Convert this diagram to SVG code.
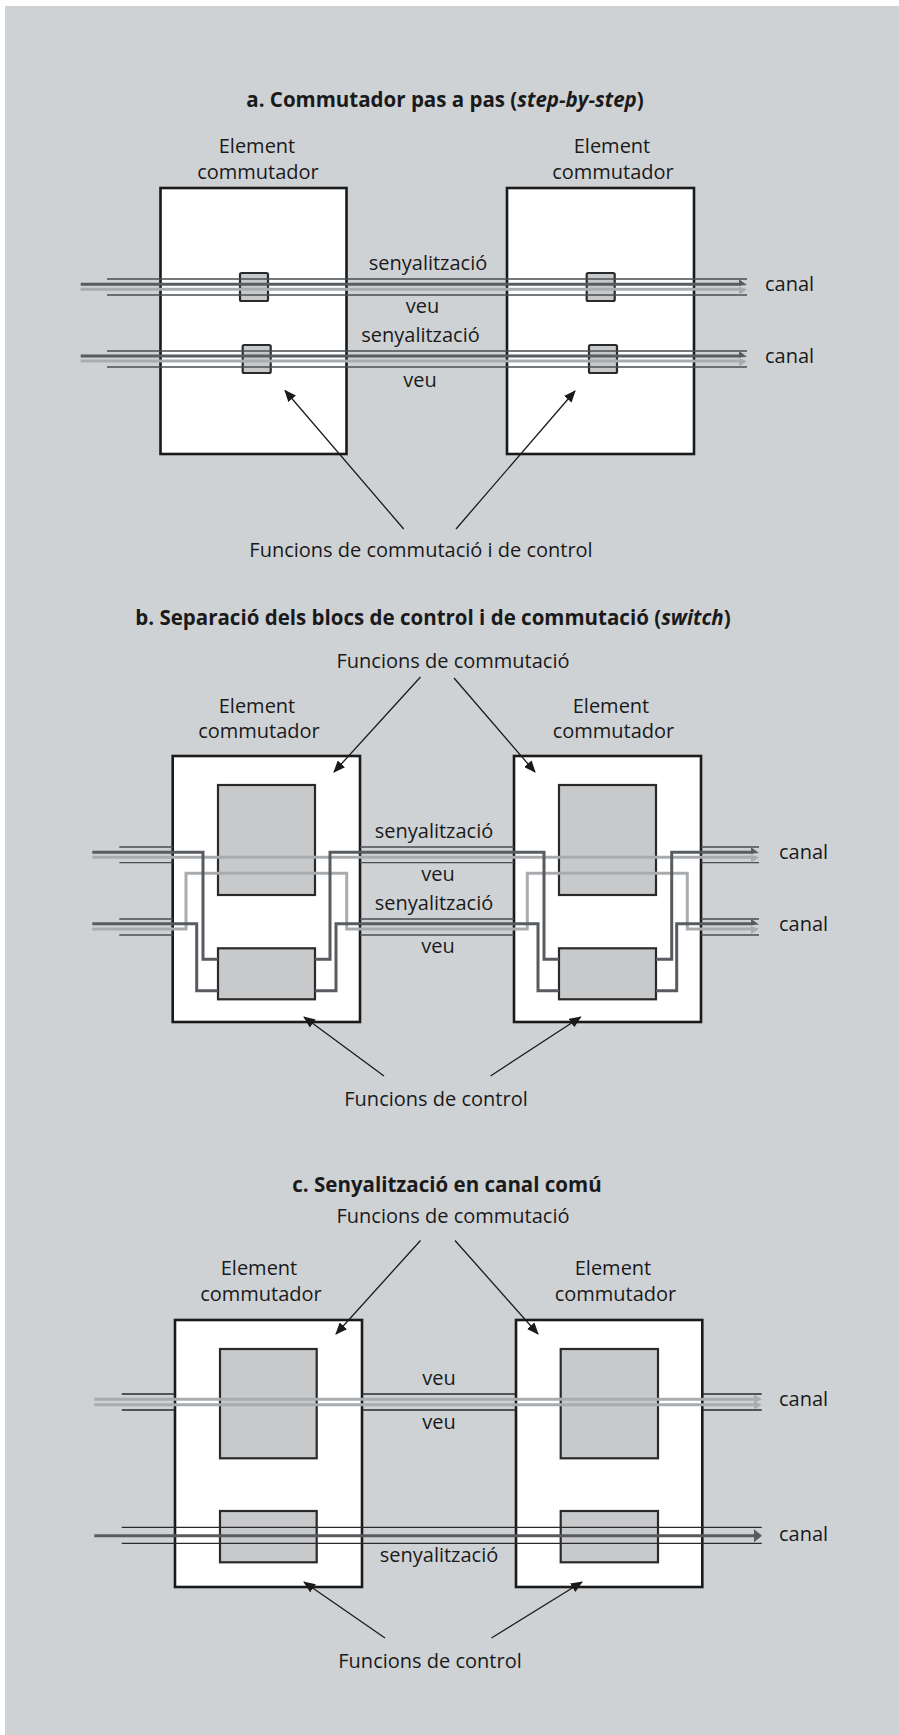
<svg xmlns="http://www.w3.org/2000/svg" width="899" height="1735" viewBox="0 0 899 1735">
<style>
text{font-family:"Open Sans","Noto Sans","Liberation Sans",sans-serif;font-size:20px;fill:#1a1a1a}
.t{font-weight:700;font-size:20.5px}
.m{text-anchor:middle}
.box{fill:#fff;stroke:#1a1a1a;stroke-width:2.6}
.blk{fill:#c8c9cb;stroke:#2a2a2a;stroke-width:2.2}
.sq{fill:#c8c9cb;stroke:#2a2a2a;stroke-width:2.2}
.thin{fill:none;stroke:#4a4d51;stroke-width:1.3}
.thinc{fill:none;stroke:#2a2a2a;stroke-width:1.3}
.dk{fill:none;stroke:#585b5f;stroke-width:3}
.lt{fill:none;stroke:#a9acaf;stroke-width:3}
.dkf{fill:#585b5f}
.ltf{fill:#a9acaf}
.ptr{fill:none;stroke:#1a1a1a;stroke-width:1.3;marker-end:url(#ah)}
</style>
<defs>
<marker id="ah" viewBox="0 0 12 10" refX="11" refY="5" markerWidth="12" markerHeight="10" markerUnits="userSpaceOnUse" orient="auto">
<path d="M0 0 L12 5 L0 10 Z" fill="#1a1a1a"/>
</marker>
<g id="arr2">
<polygon class="dkf" points="-8,-5 0,0.8 -8,1.5"/>
<polygon class="ltf" points="-8,2.5 0,5 -8,10.5"/>
</g>
</defs>
<rect x="0" y="0" width="899" height="1735" fill="#fff"/>
<rect x="5" y="6" width="894" height="1729" fill="#cfd2d5"/>

<!-- Section a -->
<g id="titleA"><text class="t m" x="445" y="107">a. Commutador pas a pas (<tspan font-style="italic">step-by-step</tspan>)</text></g>
<g id="a-el1">
<rect class="box" x="160.5" y="188" width="186" height="266"/>
<rect class="sq" x="240" y="273" width="28" height="28" rx="1.5"/>
<rect class="sq" x="242.7" y="345" width="28" height="28" rx="1.5"/>
<text class="m" x="257" y="153.3">Element</text>
<text class="m" x="258" y="179.3">commutador</text>
</g>
<g id="a-el2">
<rect class="box" x="507" y="188" width="187" height="266"/>
<rect class="sq" x="586.7" y="273" width="28" height="28" rx="1.5"/>
<rect class="sq" x="589" y="345" width="28" height="28" rx="1.5"/>
<text class="m" x="612" y="153.3">Element</text>
<text class="m" x="613" y="179.3">commutador</text>
</g>
<g id="a-labels">
<text class="m" x="428" y="269.5">senyalització</text>
<text class="m" x="422.5" y="312.7">veu</text>
<text class="m" x="420.5" y="341.7">senyalització</text>
<text class="m" x="420" y="386.7">veu</text>
<text x="765" y="291">canal</text>
<text x="765" y="363.3">canal</text>
<text class="m" x="421" y="556.7">Funcions de commutació i de control</text>
</g>

<!-- Section b -->
<g id="titleB"><text class="t m" x="433" y="625">b. Separació dels blocs de control i de commutació (<tspan font-style="italic">switch</tspan>)</text></g>
<g id="b-el1">
<rect class="box" x="172.7" y="756" width="187.3" height="266"/>
<rect class="blk" x="218" y="785" width="97" height="110"/>
<rect class="blk" x="218" y="948.3" width="97" height="51"/>
<text class="m" x="257" y="713">Element</text>
<text class="m" x="259" y="738">commutador</text>
</g>
<g id="b-el2">
<rect class="box" x="514" y="756" width="187" height="266"/>
<rect class="blk" x="559" y="785" width="97" height="110"/>
<rect class="blk" x="559" y="948.3" width="97" height="51"/>
<text class="m" x="611" y="713">Element</text>
<text class="m" x="613.5" y="738">commutador</text>
</g>
<g id="b-labels">
<text class="m" x="453" y="668">Funcions de commutació</text>
<text class="m" x="434" y="837.5">senyalització</text>
<text class="m" x="438" y="880.7">veu</text>
<text class="m" x="434" y="909.5">senyalització</text>
<text class="m" x="438" y="952.7">veu</text>
<text x="779" y="859">canal</text>
<text x="779" y="931">canal</text>
<text class="m" x="436" y="1106">Funcions de control</text>
</g>

<!-- Section c -->
<g id="titleC"><text class="t m" x="447" y="1192">c. Senyalització en canal comú</text></g>
<g id="c-el1">
<rect class="box" x="175" y="1320" width="187" height="267"/>
<rect class="blk" x="220" y="1349" width="96.7" height="109.3"/>
<rect class="blk" x="220" y="1511" width="96.7" height="51.3"/>
<text class="m" x="259" y="1275">Element</text>
<text class="m" x="261" y="1301">commutador</text>
</g>
<g id="c-el2">
<rect class="box" x="516" y="1320" width="186.3" height="267"/>
<rect class="blk" x="560.7" y="1349" width="97.3" height="109.3"/>
<rect class="blk" x="560.7" y="1511" width="97.3" height="51.3"/>
<text class="m" x="613" y="1275">Element</text>
<text class="m" x="615.5" y="1301">commutador</text>
</g>
<g id="c-labels">
<text class="m" x="453" y="1223">Funcions de commutació</text>
<text class="m" x="439" y="1384.5">veu</text>
<text class="m" x="439" y="1428.5">veu</text>
<text class="m" x="439" y="1562">senyalització</text>
<text x="779" y="1406">canal</text>
<text x="779" y="1541">canal</text>
<text class="m" x="430" y="1668.3">Funcions de control</text>
</g>

<g id="connectors">
<!-- a channels -->
<path class="thin" d="M107 279H747M107 295H747M107 351H747M107 367H747"/>
<path class="dk" d="M80.7 284.3H741M80.7 356H741"/>
<path class="lt" d="M80.7 289.3H741M80.7 361H741"/>
<use href="#arr2" x="747" y="284.3"/>
<use href="#arr2" x="747" y="356"/>
<path class="ptr" d="M403.7 529L285 390.5"/>
<path class="ptr" d="M456 529L575 391"/>

<!-- b channels -->
<path class="thin" d="M119.3 847H172.7M360 847H514M701 847H759M119.3 862.7H172.7M360 862.7H514M701 862.7H759M119.3 919H172.7M360 919H514M701 919H759M119.3 935H172.7M360 935H514M701 935H759"/>
<path class="lt" d="M92.3 857.3H753"/>
<path class="lt" d="M92.3 929H186V873.3H346.7V929H527.3V873.3H687.3V929H753"/>
<path class="dk" d="M92.3 852.3H203V959.3H218M315 959.3H330V852.3H544V959.3H559M656 959.3H671.7V852.3H753"/>
<path class="dk" d="M92.3 923.7H196.7V990.7H218M315 990.7H336V923.7H538V990.7H559M656 990.7H676.7V923.7H753"/>
<use href="#arr2" x="759" y="852.3"/>
<use href="#arr2" x="759" y="923.7"/>
<path class="ptr" d="M420.5 677L334 772"/>
<path class="ptr" d="M454 678L535 772"/>
<path class="ptr" d="M384 1076L304 1017"/>
<path class="ptr" d="M490.5 1076L580.7 1017"/>

<!-- c channels -->
<path class="thinc" d="M121.7 1394H175M362 1394H516M702.3 1394H761.7M121.7 1410H175M362 1410H516M702.3 1410H761.7"/>
<path class="lt" d="M94.3 1399.3H755M94.3 1404.7H755"/>
<polygon class="ltf" points="754,1394.5 761.7,1399.3 756,1402 761.7,1404.7 754,1409.5"/>
<path class="thinc" d="M121.7 1527.3H761.7M121.7 1543.3H761.7"/>
<path class="dk" d="M94.3 1535.7H755"/>
<polygon class="dkf" points="754,1529.2 762,1535.7 754,1542.2"/>
<path class="ptr" d="M420.5 1240.5L336 1334"/>
<path class="ptr" d="M455 1240.5L538 1334"/>
<path class="ptr" d="M385 1638L304 1582"/>
<path class="ptr" d="M491.5 1638L582 1582"/>
</g>
</svg>
